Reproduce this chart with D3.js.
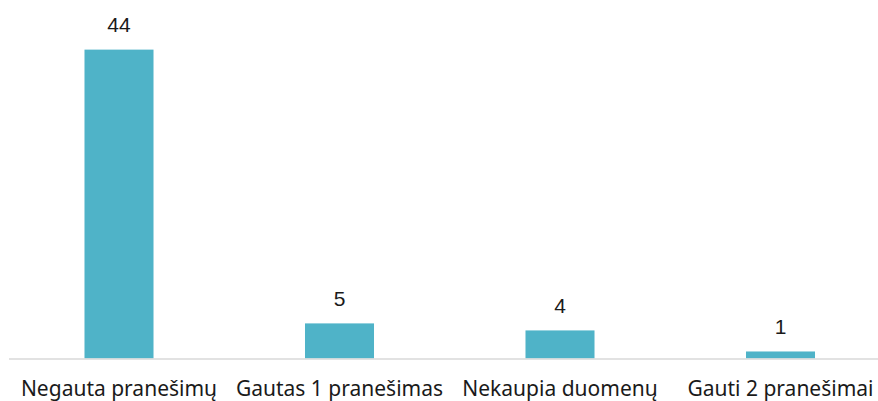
<!DOCTYPE html>
<html>
<head>
<meta charset="utf-8">
<script src="https://cdn.jsdelivr.net/npm/d3@7"></script>
<style>
  body { margin: 0; background: #fff; }
  text { fill: #1a1a1a; }
  .value { font-family: "Liberation Sans", Arial, sans-serif; }
  .cat { font-family: "Noto Sans", "Open Sans", sans-serif; }
</style>
</head>
<body>
<div id="chart"></div>
<script>
// Chart size
const width = 878, height = 401;

// Data
const categories = ["Negauta pranešimų", "Gautas 1 pranešimas", "Nekaupia duomenų", "Gauti 2 pranešimai"];
const values = [44, 5, 4, 1];

const svg = d3.select("#chart").append("svg")
  .attr("width", width)
  .attr("height", height);

const baseline = 358.5;

// Scales
const x = d3.scaleBand()
  .domain(categories)
  .range([8.75, 890.75])
  .paddingInner(0.687)
  .paddingOuter(0.3435);

const y = d3.scaleLinear()
  .domain([0, 50])
  .range([baseline, baseline - 351]);

// Bars
svg.selectAll("rect.bar")
  .data(values)
  .enter()
  .append("rect")
  .attr("class", "bar")
  .attr("x", (d, i) => x(categories[i]))
  .attr("y", d => y(d))
  .attr("width", x.bandwidth())
  .attr("height", d => baseline - y(d))
  .attr("fill", "#4fb3c8");

// Axis line
svg.append("line")
  .attr("x1", 9)
  .attr("x2", 878)
  .attr("y1", baseline + 0.5)
  .attr("y2", baseline + 0.5)
  .attr("stroke", "#d9d9d9")
  .attr("stroke-width", 1.5);

// Value labels
svg.selectAll("text.value")
  .data(values)
  .enter()
  .append("text")
  .attr("class", "value")
  .attr("x", (d, i) => x(categories[i]) + x.bandwidth() / 2)
  .attr("y", d => y(d) - 17.5)
  .attr("text-anchor", "middle")
  .style("font-size", "21px")
  .text(d => d);

// Category labels
svg.selectAll("text.cat")
  .data(categories)
  .enter()
  .append("text")
  .attr("class", "cat")
  .attr("x", d => x(d) + x.bandwidth() / 2)
  .attr("y", baseline + 37)
  .attr("text-anchor", "middle")
  .style("font-size", "21px")
  .text(d => d);
</script>
</body>
</html>
